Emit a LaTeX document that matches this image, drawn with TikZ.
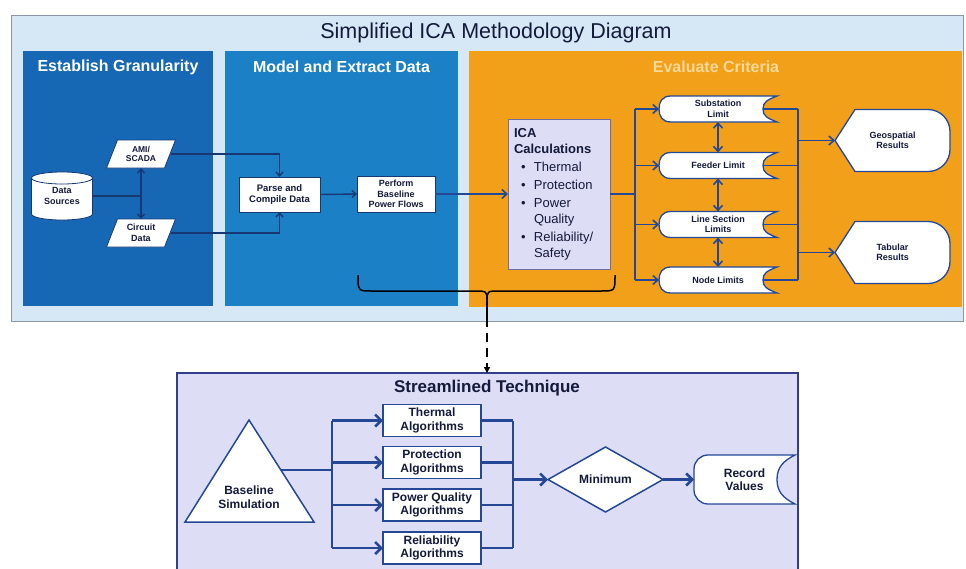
\documentclass[tikz,border=0pt]{standalone}
\usepackage{fontspec}
\setmainfont{Liberation Sans}
\usetikzlibrary{arrows.meta,shapes.geometric,calc}
\pgfdeclarelayer{back}
\pgfdeclarelayer{mid}
\pgfsetlayers{back,mid,main}
\definecolor{outerbg}{RGB}{214,232,246}
\definecolor{outerline}{RGB}{140,150,165}
\definecolor{panelA}{RGB}{22,104,180}
\definecolor{panelB}{RGB}{28,128,198}
\definecolor{orangeP}{RGB}{242,160,26}
\definecolor{lav}{RGB}{221,221,245}
\definecolor{icaline}{RGB}{110,110,160}
\definecolor{navy}{RGB}{24,56,116}
\definecolor{lineblue}{RGB}{36,72,150}
\definecolor{stborder}{RGB}{52,62,140}
\definecolor{txt}{RGB}{20,26,58}
\definecolor{fadetitle}{RGB}{250,216,150}
% custom shapes drawn around invisible named nodes
\newcommand\limitshape[1]{%
  \filldraw[shp] (#1.north east) .. controls ($(#1.north east)+(-10,4)$) and ($(#1.east)+(-14,-7)$) .. ($(#1.east)+(-14,0)$)
    .. controls ($(#1.east)+(-14,7)$) and ($(#1.south east)+(-10,-4)$) .. (#1.south east)
    -- ($(#1.south west)+(12,0)$) .. controls ($(#1.south west)+(3,0)$) and ($(#1.west)+(0,7)$) .. (#1.west)
    .. controls ($(#1.west)+(0,-7)$) and ($(#1.north west)+(3,0)$) .. ($(#1.north west)+(12,0)$) -- cycle;}
\newcommand\dispshape[1]{%
  \filldraw[shp] (#1.west) -- ($(#1.north west)+(20,0)$) -- ($(#1.north east)+(-22,0)$)
    arc[start angle=90,end angle=0,radius=22pt] -- ($(#1.south east)+(0,-22)$)
    arc[start angle=0,end angle=-90,radius=22pt] -- ($(#1.south west)+(20,0)$) -- cycle;}
\newcommand\recshape[1]{%
  \filldraw[shp] (#1.north east) .. controls ($(#1.north east)+(-12,6)$) and ($(#1.east)+(-18,-12)$) .. ($(#1.east)+(-18,0)$)
    .. controls ($(#1.east)+(-18,12)$) and ($(#1.south east)+(-12,-6)$) .. (#1.south east)
    -- ($(#1.south west)+(14,0)$) arc[start angle=270,end angle=180,radius=14pt]
    -- ($(#1.north west)+(0,14)$) arc[start angle=180,end angle=90,radius=14pt] -- cycle;}
\newcommand\icab[1]{\makebox[20pt][l]{\hspace{7pt}\textbullet}#1}
\newcommand\icac[1]{\hspace{20pt}#1}
\begin{document}
\begin{tikzpicture}[x=1pt,y=-1pt,
  every node/.style={inner sep=0pt, outer sep=0pt},
  ptitle/.style={font=\fontsize{16}{18}\selectfont\bfseries},
  tlbl/.style={font=\fontsize{9}{10.5}\selectfont\bfseries, text=txt, align=center},
  wbox/.style={tlbl, draw=navy, fill=white, line width=0.8pt},
  blbl/.style={font=\fontsize{12}{13.5}\selectfont\bfseries, text=txt, align=center},
  algbox/.style={blbl, draw=lineblue, fill=white, line width=1.8pt, minimum width=98pt, minimum height=32pt},
  shp/.style={fill=white, draw=lineblue, line width=1.3pt},
  bshp/.style={fill=white, draw=navy, line width=0.8pt},
  bline/.style={draw=navy, line width=1.4pt},
  barrow/.style={bline, -{Straight Barb[length=4pt,width=7pt]}},
  oline/.style={draw=lineblue, line width=1.6pt},
  oarrow/.style={oline, -{Straight Barb[length=5pt,width=9pt]}},
  dblarrow/.style={oline, {Straight Barb[length=5pt,width=9pt]}-{Straight Barb[length=5pt,width=9pt]}},
  sline/.style={draw=lineblue, line width=2.6pt},
  sarrow/.style={sline, -{Straight Barb[length=6pt,width=12pt]}},
  bracestyle/.style={draw=black, line width=1.5pt},
]
\useasboundingbox (0,0) rectangle (966,568);

% ---------- backgrounds ----------
\begin{pgfonlayer}{back}
\fill[white] (0,0) rectangle (966,568);
\filldraw[fill=outerbg, draw=outerline, line width=0.8pt] (11,15) rectangle (963,321);
\fill[panelA] (23,51) rectangle (213,306);
\fill[panelB] (225,51) rectangle (458,306);
\fill[orangeP] (469,51) rectangle (962,307);
\node[fill=lav, minimum width=621pt, minimum height=200pt, anchor=north west] (stbox) at (177,373) {};
\draw[draw=stborder, line width=1.3pt] (stbox.south west) -- (stbox.north west) -- (stbox.north east) -- (stbox.south east);
\end{pgfonlayer}

% ---------- titles ----------
\node[font=\fontsize{21.5}{25}\selectfont, text=txt] (title) at (496,33) {Simplified ICA Methodology Diagram};
\node[ptitle, text=white] (gtitle) at (118,67) {Establish Granularity};
\node[ptitle, text=white] (mtitle) at (341.5,67) {Model and Extract Data};
\node[ptitle, text=fadetitle] (etitle) at (716,67) {Evaluate Criteria};
\node[font=\fontsize{17}{20}\selectfont\bfseries, text=txt] (sttitle) at (487,388) {Streamlined Technique};

% ---------- top nodes ----------
\node[tlbl, minimum width=61pt, minimum height=48pt] (ds) at (62,196) {Data\\Sources};
\node[tlbl, font=\fontsize{8.5}{9.5}\selectfont\bfseries, minimum width=69pt, minimum height=28pt] (ami) at (141,154) {AMI/\\SCADA};
\node[tlbl, minimum width=69pt, minimum height=28pt] (cd) at (141,233) {Circuit\\Data};
\node[wbox, font=\fontsize{9.5}{11}\selectfont\bfseries, minimum width=81pt, minimum height=35pt] (parse) at (279.5,194.5) {Parse and\\Compile Data};
\node[wbox, minimum width=78pt, minimum height=36pt] (perf) at (396,194) {Perform\\Baseline\\Power Flows};
\node[draw=icaline, fill=lav, line width=1pt, minimum width=102pt, minimum height=150pt,
      text width=90pt, align=left, text=txt, font=\fontsize{13}{16}\selectfont] (ica) at (559,194)
  {\textbf{ICA}\\
   \textbf{Calculations}\\[2pt]
   \icab{Thermal}\\[2pt]
   \icab{Protection}\\[2pt]
   \icab{Power}\\
   \icac{Quality}\\[2pt]
   \icab{Reliability/}\\
   \icac{Safety}};
\node[tlbl, minimum width=118pt, minimum height=26pt] (sub) at (718,109) {Substation\\Limit};
\node[tlbl, minimum width=118pt, minimum height=26pt] (feed) at (718,165.5) {Feeder Limit};
\node[tlbl, minimum width=118pt, minimum height=26pt] (line) at (718,224.5) {Line Section\\Limits};
\node[tlbl, minimum width=118pt, minimum height=26pt] (nodel) at (718,280) {Node Limits};
\node[tlbl, minimum width=115pt, minimum height=62pt] (geo) at (892.5,140.5) {Geospatial\\Results};
\node[tlbl, minimum width=115pt, minimum height=62pt] (tab) at (892.5,252.5) {Tabular\\Results};

% ---------- bottom nodes ----------
\node[blbl] (bs) at (249,497) {Baseline\\Simulation};
\node[algbox] (th) at (432,420.5) {Thermal\\Algorithms};
\node[algbox] (pr) at (432,462.5) {Protection\\Algorithms};
\node[algbox] (pq) at (432,505) {Power Quality\\Algorithms};
\node[algbox] (rel) at (432,548) {Reliability\\Algorithms};
\node[blbl, diamond, draw=lineblue, fill=white, line width=1.5pt, minimum width=115pt, minimum height=65pt] (mini) at (605.5,479.5) {Minimum};
\node[blbl, minimum width=101pt, minimum height=49pt] (rec) at (744.5,479.5) {Record\\Values};

% ---------- custom shapes ----------
\begin{pgfonlayer}{mid}
\filldraw[bshp] ($(ds.north west)+(0,6)$) -- ($(ds.south west)+(0,-6)$)
   arc[start angle=180,end angle=360,x radius=30.5pt,y radius=6pt]
   -- ($(ds.north east)+(0,6)$) arc[start angle=0,end angle=180,x radius=30.5pt,y radius=6pt] -- cycle;
\draw[bshp, fill=none] ($(ds.north west)+(0,6)$) arc[start angle=180,end angle=360,x radius=30.5pt,y radius=6pt];
\filldraw[bshp, shift={(ami.center)}] (-34.5,14) -- (23.5,14) -- (34.5,-14) -- (-23.5,-14) -- cycle;
\filldraw[bshp, shift={(cd.center)}] (-34.5,14) -- (23.5,14) -- (34.5,-14) -- (-23.5,-14) -- cycle;
\limitshape{sub}
\limitshape{feed}
\limitshape{line}
\limitshape{nodel}
\dispshape{geo}
\dispshape{tab}
\recshape{rec}
\filldraw[shp, line width=1.5pt, shift={(bs.center)}] (0,-77) -- (65,25) -- (-64,25) -- cycle;
\end{pgfonlayer}

% ---------- connectors: establish / model ----------
\coordinate (junc) at (ami.south |- ds.east);
\draw[bline] (ds.east) -- (junc);
\draw[barrow] (junc) -- (ami.south);
\draw[barrow] (junc) -- (cd.north);
\draw[barrow] ($(ami.east)+(-5,0)$) -- (parse.north |- ami.east) -- (parse.north);
\draw[barrow] ($(cd.east)+(-5,0)$) -- (parse.south |- cd.east) -- (parse.south);
\draw[barrow] (parse.east) -- (perf.west);
\draw[oarrow] (perf.east) -- (ica.west);

% ---------- connectors: evaluate ----------
\coordinate (brL) at ($(sub.west)+(-24,0)$);
\coordinate (brR) at ($(sub.east)+(21,0)$);
\draw[oline] (ica.east) -- (ica.east -| brL);
\draw[oline] (brL) -- (brL |- nodel.west);
\draw[oarrow] (brL) -- (sub.west);
\draw[oarrow] (brL |- feed.west) -- (feed.west);
\draw[oarrow] (brL |- line.west) -- (line.west);
\draw[oarrow] (brL |- nodel.west) -- (nodel.west);
\draw[dblarrow] (sub.south) -- (feed.north);
\draw[dblarrow] (feed.south) -- (line.north);
\draw[dblarrow] (line.south) -- (nodel.north);
\draw[oline] ($(sub.east)+(-14,0)$) -- (brR);
\draw[oline] ($(feed.east)+(-14,0)$) -- (brR |- feed.east);
\draw[oline] ($(line.east)+(-14,0)$) -- (brR |- line.east);
\draw[oline] ($(nodel.east)+(-14,0)$) -- (brR |- nodel.east);
\draw[oline] (brR) -- (brR |- nodel.east);
\draw[oarrow] (brR |- geo.west) -- (geo.west);
\draw[oarrow] (brR |- tab.west) -- (tab.west);

% ---------- brace and link ----------
\coordinate (btip) at (487,301);
\draw[bracestyle] (358,275) .. controls (358,291) .. (372,291) -- (474,291) .. controls (487,291) .. (btip)
  .. controls (487,291) .. (500,291) -- (601,291) .. controls (615,291) .. (615,275);
\coordinate (bmid) at (487,318);
\draw[bracestyle] (btip) -- (bmid);
\draw[bracestyle, dash pattern=on 9pt off 6pt, -{Triangle[length=6pt,width=6pt]}] (bmid) -- (stbox.north -| bmid);

% ---------- connectors: streamlined ----------
\coordinate (tri) at ($(bs.center)+(32,-27)$);
\coordinate (bl) at (332,470);
\coordinate (br) at (513,479.5);
\draw[sline] (tri) -- (bl);
\draw[sline] (bl |- th.west) -- (bl |- rel.west);
\draw[sarrow] (bl |- th.west) -- (th.west);
\draw[sarrow] (bl |- pr.west) -- (pr.west);
\draw[sarrow] (bl |- pq.west) -- (pq.west);
\draw[sarrow] (bl |- rel.west) -- (rel.west);
\draw[sline] (th.east) -- (br |- th.east);
\draw[sline] (pr.east) -- (br |- pr.east);
\draw[sline] (pq.east) -- (br |- pq.east);
\draw[sline] (rel.east) -- (br |- rel.east);
\draw[sline] (br |- th.east) -- (br |- rel.east);
\draw[sarrow] (br) -- (mini.west);
\draw[sarrow] (mini.east) -- (rec.west);
\end{tikzpicture}
\end{document}
